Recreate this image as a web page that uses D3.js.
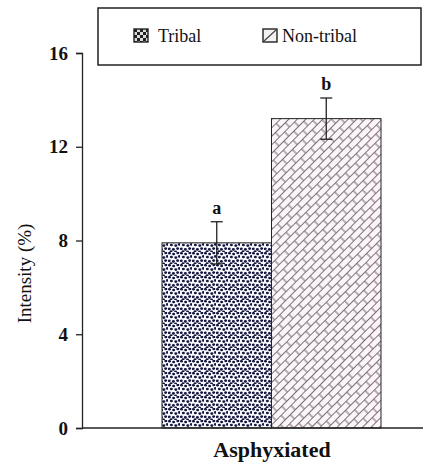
<!DOCTYPE html>
<html>
<head>
<meta charset="utf-8">
<script src="https://cdn.jsdelivr.net/npm/d3@7"></script>
<style>
  body { margin: 0; background: #fff; }
  svg { display: block; font-family: "Liberation Serif", "DejaVu Serif", serif; }
</style>
</head>
<body>
<svg id="chart" width="423" height="462"></svg>
<script>
var groups = ['Tribal', 'Non-tribal'];
var means = [7.9, 13.2];
var errors = [0.9, 0.88];
var letters = ['a', 'b'];
var yTicks = [0, 4, 8, 12, 16];
var category = 'Asphyxiated';

var svg = d3.select('#chart');
var defs = svg.append('defs');

// dotted fill for Tribal (irregular dots in a 12px tile)
var dots = defs.append('pattern')
  .attr('id', 'dots')
  .attr('patternUnits', 'userSpaceOnUse')
  .attr('width', 12).attr('height', 12);
dots.append('rect').attr('width', 12).attr('height', 12).attr('fill', '#fafaff');
[[1.5, 1.2], [5.6, 2.0], [9.8, 0.9], [3.4, 5.0], [7.8, 5.6], [11.4, 4.4],
 [1.2, 8.8], [5.4, 9.4], [9.6, 8.6], [3.0, 11.6], [7.6, 11.8]].forEach(function (p) {
  dots.append('ellipse')
    .attr('cx', p[0]).attr('cy', p[1])
    .attr('rx', 1.5).attr('ry', 1.3)
    .attr('fill', '#15183e');
});

// chunky swatch pattern for the legend
var dotsBig = defs.append('pattern')
  .attr('id', 'dotsBig')
  .attr('patternUnits', 'userSpaceOnUse')
  .attr('width', 6).attr('height', 6);
dotsBig.append('rect').attr('width', 6).attr('height', 6).attr('fill', '#ddd');
dotsBig.append('rect').attr('width', 3).attr('height', 3).attr('fill', '#222');
dotsBig.append('rect').attr('x', 3).attr('y', 3).attr('width', 3).attr('height', 3).attr('fill', '#222');

// brick fill for Non-tribal
var brick = defs.append('pattern')
  .attr('id', 'brick')
  .attr('patternUnits', 'userSpaceOnUse')
  .attr('width', 14).attr('height', 12)
  .attr('patternTransform', 'rotate(-45)');
brick.append('rect').attr('width', 14).attr('height', 12).attr('fill', '#fbf5f9');
brick.append('path')
  .attr('d', 'M0,0.5H14M0,6.5H14M3,0.5V6.5M10,6.5V12.5')
  .attr('stroke', '#7e7078')
  .attr('stroke-width', 1.1)
  .attr('fill', 'none');

var x = d3.scaleBand().domain(groups).range([162, 381]).padding(0);
var y = d3.scaleLinear().domain([0, 16]).range([428, 53]);

// bars
svg.selectAll('rect.bar')
  .data(groups)
  .enter().append('rect')
  .attr('class', 'bar')
  .attr('x', function (d) { return x(d); })
  .attr('width', x.bandwidth())
  .attr('y', function (d, i) { return y(means[i]); })
  .attr('height', function (d, i) { return y(0) - y(means[i]); })
  .attr('fill', function (d, i) { return i === 0 ? 'url(#dots)' : 'url(#brick)'; })
  .attr('stroke', '#222')
  .attr('stroke-width', 1);

// error bars
var eb = svg.selectAll('g.err')
  .data(groups)
  .enter().append('g')
  .attr('class', 'err')
  .attr('stroke', '#222')
  .attr('stroke-width', 1.3);
eb.append('line')
  .attr('x1', function (d) { return x(d) + x.bandwidth() / 2; })
  .attr('x2', function (d) { return x(d) + x.bandwidth() / 2; })
  .attr('y1', function (d, i) { return y(means[i] + errors[i]); })
  .attr('y2', function (d, i) { return y(means[i] - errors[i]); });
[1, -1].forEach(function (s) {
  eb.append('line')
    .attr('x1', function (d) { return x(d) + x.bandwidth() / 2 - 6; })
    .attr('x2', function (d) { return x(d) + x.bandwidth() / 2 + 6; })
    .attr('y1', function (d, i) { return y(means[i] + s * errors[i]); })
    .attr('y2', function (d, i) { return y(means[i] + s * errors[i]); });
});

// significance letters
svg.selectAll('text.letter')
  .data(groups)
  .enter().append('text')
  .attr('class', 'letter')
  .attr('x', function (d) { return x(d) + x.bandwidth() / 2; })
  .attr('y', function (d, i) { return y(means[i] + errors[i]) - 8; })
  .attr('text-anchor', 'middle')
  .attr('font-size', 18)
  .attr('font-weight', 'bold')
  .attr('fill', '#111')
  .text(function (d, i) { return letters[i]; });

// y axis
var yAxis = svg.append('g')
  .attr('transform', 'translate(82,0)')
  .call(d3.axisLeft(y).tickValues(yTicks).tickSize(6).tickPadding(8).tickFormat(d3.format('d')));
yAxis.select('.domain').attr('stroke', '#222').attr('stroke-width', 1.3);
yAxis.selectAll('.tick line').attr('stroke', '#222').attr('stroke-width', 1.3);
yAxis.selectAll('.tick text')
  .attr('font-family', '"Liberation Serif", serif')
  .attr('font-size', 19)
  .attr('font-weight', 'bold')
  .attr('fill', '#111');

// baseline
svg.append('line')
  .attr('x1', 82).attr('x2', 423)
  .attr('y1', y(0)).attr('y2', y(0))
  .attr('stroke', '#222').attr('stroke-width', 1.3);

// axis titles
svg.append('text')
  .attr('transform', 'translate(31,' + ((y(0) + y(16)) / 2 + 33) + ') rotate(-90)')
  .attr('text-anchor', 'middle')
  .attr('font-size', 19)
  .attr('fill', '#111')
  .text('Intensity (%)');

svg.append('text')
  .attr('x', 272).attr('y', 457)
  .attr('text-anchor', 'middle')
  .attr('font-size', 22)
  .attr('font-weight', 'bold')
  .attr('fill', '#111')
  .text(category);

// legend
svg.append('rect')
  .attr('x', 98).attr('y', 8)
  .attr('width', 323).attr('height', 57)
  .attr('fill', '#fff')
  .attr('stroke', '#222').attr('stroke-width', 1.5);

var legendX = [134, 263];
var leg = svg.selectAll('g.leg')
  .data(groups)
  .enter().append('g')
  .attr('class', 'leg')
  .attr('transform', function (d, i) { return 'translate(' + legendX[i] + ',29)'; });
leg.append('rect')
  .attr('width', 14).attr('height', 13)
  .attr('fill', function (d, i) { return i === 0 ? 'url(#dotsBig)' : '#f4f1f3'; })
  .attr('stroke', '#222').attr('stroke-width', 1.4);
leg.filter(function (d, i) { return i === 1; })
  .append('line')
  .attr('x1', 1).attr('y1', 12).attr('x2', 13).attr('y2', 1)
  .attr('stroke', '#444').attr('stroke-width', 1.2);
leg.append('text')
  .attr('x', function (d, i) { return i === 0 ? 24 : 19; })
  .attr('y', 13)
  .attr('font-size', 18)
  .attr('fill', '#111')
  .text(function (d) { return d; });
</script>
</body>
</html>
